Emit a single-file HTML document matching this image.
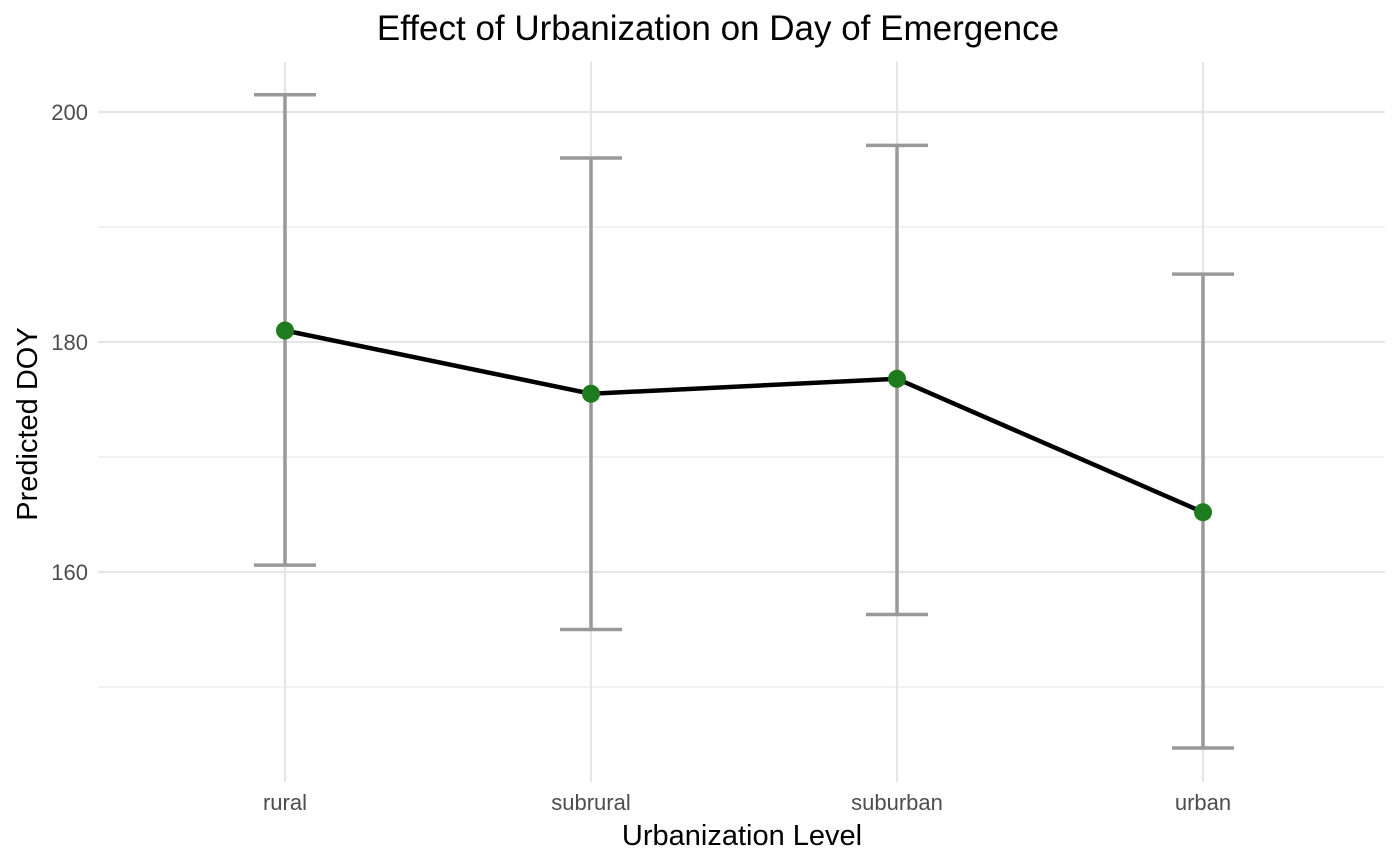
<!DOCTYPE html>
<html><head><meta charset="utf-8"><style>
html,body{margin:0;padding:0;background:#fff;}
svg{display:block;font-family:"Liberation Sans",Arial,sans-serif;}
</style></head><body>
<svg id="chart" width="1400" height="865">
<g id="grid"></g>
<g id="marks"></g>
<g id="axes"></g>
<text x="718" y="40" text-anchor="middle" font-size="35" fill="#000">Effect of Urbanization on Day of Emergence</text>
<text x="742" y="845" text-anchor="middle" font-size="29" fill="#000">Urbanization Level</text>
<text transform="translate(37,424) rotate(-90)" text-anchor="middle" font-size="29" fill="#000">Predicted DOY</text>
</svg>
<script>
const categories = ["rural","subrural","suburban","urban"];
const predicted = [181.0, 175.5, 176.8, 165.2];
const upper = [201.5, 196.0, 197.1, 185.9];
const lower = [160.6, 155.0, 156.3, 144.7];
const majorTicks = [160, 180, 200];
const minorTicks = [150, 170, 190];

const NS = "http://www.w3.org/2000/svg";
const plotL = 98, plotR = 1385, plotT = 62, plotB = 782;
function y(v){ return 112 + (200 - v) * 11.5; }
function x(i){ return 285 + i * 306; }
function mk(tag, attrs, parent){
  const e = document.createElementNS(NS, tag);
  for (const k in attrs) e.setAttribute(k, attrs[k]);
  parent.appendChild(e); return e;
}
const grid = document.getElementById("grid");
const marks = document.getElementById("marks");
const axes = document.getElementById("axes");

minorTicks.forEach(v => {
  const l = mk("line", {x1:plotL, x2:plotR, y1:y(v), y2:y(v), stroke:"#ebebeb", "stroke-width":1.2}, grid);
  
  
});
majorTicks.forEach(v => {
  const l = mk("line", {x1:plotL, x2:plotR, y1:y(v), y2:y(v), stroke:"#e5e5e5", "stroke-width":2.2}, grid);
  
  
  const t = mk("text", {x:88, y:y(v)+8, "text-anchor":"end", "font-size":22, fill:"#4d4d4d"}, axes);
  t.textContent = v;
  
  
});
categories.forEach((c, i) => {
  const l = mk("line", {x1:x(i), x2:x(i), y1:plotT, y2:plotB, stroke:"#e5e5e5", "stroke-width":2.2}, grid);
  
  
  const t = mk("text", {x:x(i), y:810, "text-anchor":"middle", "font-size":22, fill:"#4d4d4d"}, axes);
  t.textContent = c;
  
  
});
categories.forEach((c, i) => {
  const g = mk("g", {stroke:"#999999", "stroke-width":3.5, fill:"none"}, marks);
  
  
  mk("line", {x1:x(i), x2:x(i), y1:y(upper[i]), y2:y(lower[i])}, g);
  mk("line", {x1:x(i)-31, x2:x(i)+31, y1:y(upper[i]), y2:y(upper[i])}, g);
  mk("line", {x1:x(i)-31, x2:x(i)+31, y1:y(lower[i]), y2:y(lower[i])}, g);
});
const pl = mk("polyline", {points: predicted.map((v,i)=>x(i)+","+y(v)).join(" "), fill:"none", stroke:"#000", "stroke-width":4.5}, marks);


categories.forEach((c, i) => {
  const p = mk("circle", {cx:x(i), cy:y(predicted[i]), r:9, fill:"#1e7b1e"}, marks);
  
  
});
</script>
</body></html>
